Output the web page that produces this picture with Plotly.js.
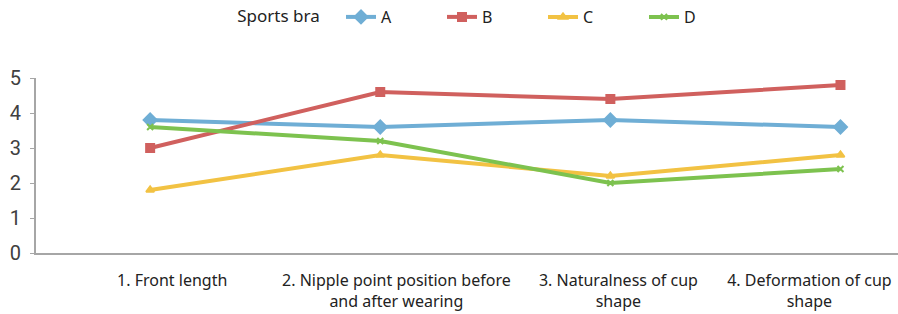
<!DOCTYPE html>
<html>
<head>
<meta charset="utf-8">
<script src="https://cdn.plot.ly/plotly-3.0.1.min.js"></script>
<style>html,body{margin:0;padding:0;background:#fff;}#chart{width:898px;height:314px;}</style>
</head>
<body>
<div id="chart"></div>
<script>
const categories = ["1. Front length", "2. Nipple point position before<br>and after wearing", "3. Naturalness of cup<br>shape", "4. Deformation of cup<br>shape"];
const seriesNames = ["A", "B", "C", "D"];
const valuesA = [3.8, 3.6, 3.8, 3.6];
const valuesB = [3.0, 4.6, 4.4, 4.8];
const valuesC = [1.8, 2.8, 2.2, 2.8];
const valuesD = [3.6, 3.2, 2.0, 2.4];
const yTicks = [0, 1, 2, 3, 4, 5];

const idx = categories.map((c, i) => i);
// label offsets (style only): shift each category label horizontally as in the reference
const labelShift = [0.096, 0.07, 0.035, -0.135];

const styles = [
  {color: "#6FAED5", symbol: "diamond", size: 10},
  {color: "#D0605E", symbol: "square", size: 8},
  {color: "#F2C243", symbol: "triangle-up", size: 7},
  {color: "#7DC24F", symbol: "x-thin-open", size: 6}
];
const all = [valuesA, valuesB, valuesC, valuesD];
const traces = all.map((v, i) => ({
  type: "scatter", mode: "lines+markers", name: seriesNames[i],
  x: idx, y: v,
  line: {color: styles[i].color, width: 4},
  marker: {color: styles[i].color, symbol: styles[i].symbol, size: styles[i].size,
           line: {color: styles[i].color, width: 2}}
}));

const layout = {
  width: 898, height: 314,
  margin: {l: 36, r: 0, t: 78, b: 61},
  paper_bgcolor: "#fff", plot_bgcolor: "#fff",
  showlegend: true,
  legend: {
    orientation: "h", xref: "container", yref: "container",
    x: 0.262, y: 1.0, xanchor: "left", yanchor: "top",
    title: {text: "Sports bra&nbsp;&nbsp;&nbsp;", font: {family: "Noto Sans, sans-serif", size: 17, color: "#222"}, side: "left"},
    font: {family: "Noto Sans, sans-serif", size: 16, color: "#222"},
    entrywidth: 56,
    bgcolor: "rgba(0,0,0,0)"
  },
  xaxis: {
    type: "linear", range: [-0.496, 3.25], fixedrange: true,
    tickmode: "array", tickvals: idx.map((i) => i + labelShift[i]), ticktext: categories,
    ticks: "", showgrid: false, zeroline: false,
    showline: true, linecolor: "#A6A6A6", linewidth: 2,
    ticklabelstandoff: 12,
    tickfont: {family: "Noto Sans, sans-serif", size: 16, color: "#222"}
  },
  yaxis: {
    range: [0, 5], tickmode: "array", tickvals: yTicks,
    ticks: "outside", ticklen: 4, tickcolor: "#A6A6A6", tickwidth: 1,
    showgrid: false, zeroline: false,
    showline: true, linecolor: "#A6A6A6", linewidth: 2,
    ticklabelstandoff: 5,
    tickfont: {family: "Roboto, Noto Sans, sans-serif", size: 20, color: "#404040"}
  }
};
Plotly.newPlot("chart", traces, layout, {displayModeBar: false, staticPlot: true});
</script>
</body>
</html>
